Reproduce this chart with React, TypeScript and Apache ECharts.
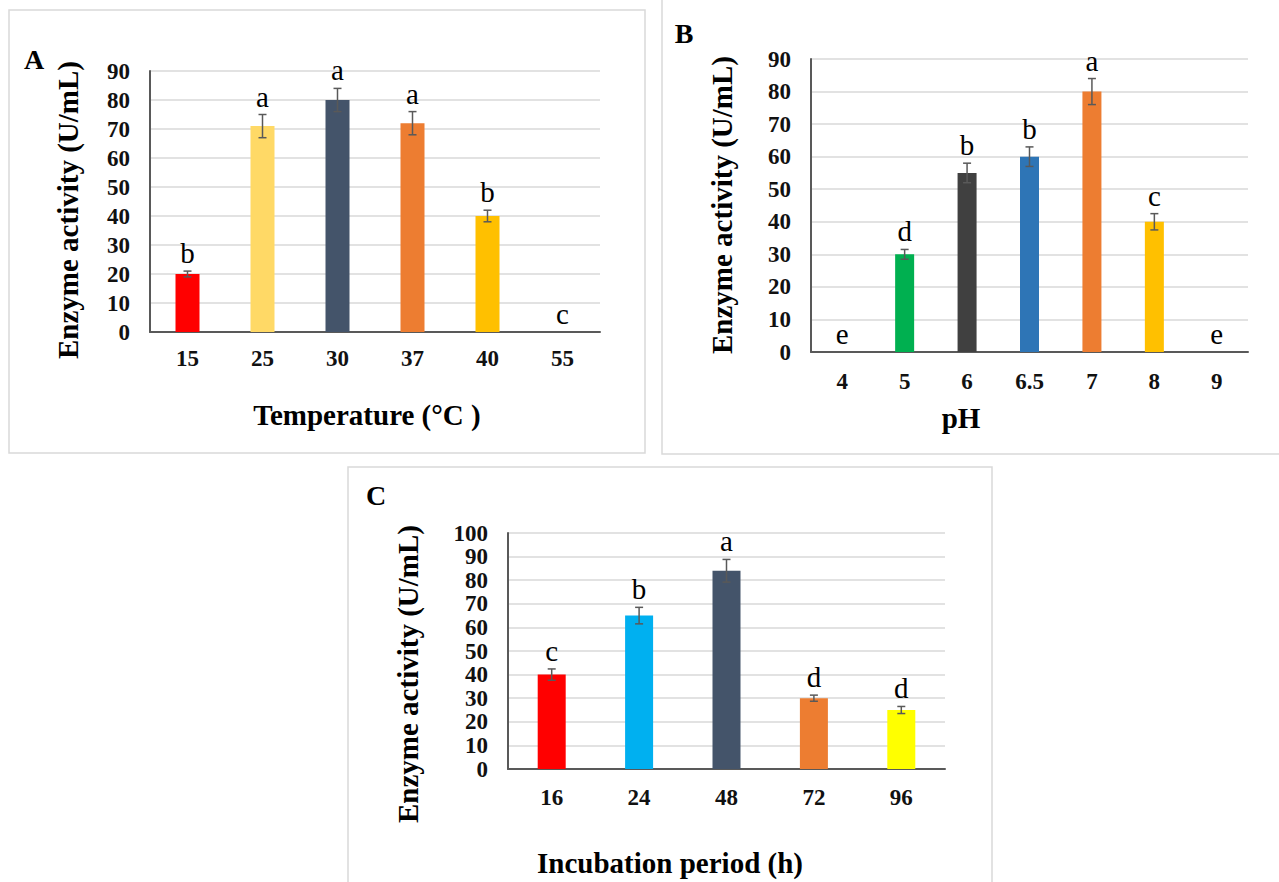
import React, { useEffect, useRef } from "react";
import * as echarts from "echarts";

// Panel A: temperature
const tempCategories = ["15", "25", "30", "37", "40", "55"];
const tempValues = [20, 71, 80, 72, 40, 0];
const tempErrors = [1, 4, 4, 4, 2, 0];
const tempLetters = ["b", "a", "a", "a", "b", "c"];
const tempColors = ["#FF0000", "#FFD966", "#44546A", "#ED7D31", "#FFC000", "#A5A5A5"];

// Panel B: pH
const phCategories = ["4", "5", "6", "6.5", "7", "8", "9"];
const phValues = [0, 30, 55, 60, 80, 40, 0];
const phErrors = [0, 1.5, 3, 3, 4, 2.5, 0];
const phLetters = ["e", "d", "b", "b", "a", "c", "e"];
const phColors = ["#A5A5A5", "#00B050", "#404040", "#2E75B6", "#ED7D31", "#FFC000", "#A5A5A5"];

// Panel C: incubation period
const timeCategories = ["16", "24", "48", "72", "96"];
const timeValues = [40, 65, 84, 30, 25];
const timeErrors = [2.4, 3.5, 4.8, 1.3, 1.5];
const timeLetters = ["c", "b", "a", "d", "d"];
const timeColors = ["#FF0000", "#00B0F0", "#44546A", "#ED7D31", "#FFFF00"];

const yTicksA = { max: 90, interval: 10 };
const yTicksB = { max: 90, interval: 10 };
const yTicksC = { max: 100, interval: 10 };

const FONT = '"Liberation Serif", "Times New Roman", serif';
const TEXT = "#111111";

const valueAxis = (idx: number, max: number, interval: number) => ({
  type: "value",
  gridIndex: idx,
  min: 0,
  max,
  interval,
  axisLine: { show: true, lineStyle: { color: "#595959", width: 2 } },
  axisTick: { show: false },
  splitLine: { show: true, lineStyle: { color: "#D9D9D9", width: 1.5 } },
  axisLabel: {
    fontFamily: FONT,
    fontWeight: "bold",
    fontSize: 23,
    color: TEXT,
    margin: 20,
  },
});

const catAxis = (idx: number, data: string[], margin: number) => ({
  type: "category",
  gridIndex: idx,
  data,
  axisLine: { show: true, lineStyle: { color: "#595959", width: 2 } },
  axisTick: { show: false },
  axisLabel: {
    fontFamily: FONT,
    fontWeight: "bold",
    fontSize: 23,
    color: TEXT,
    margin,
  },
});

const barSeries = (idx: number, values: number[], colors: string[], width: number) => ({
  type: "bar",
  xAxisIndex: idx,
  yAxisIndex: idx,
  barWidth: width,
  data: values.map((v, i) => ({ value: v, itemStyle: { color: colors[i] } })),
});

const errorSeries = (idx: number, values: number[], errors: number[], letters: string[]) => ({
  type: "custom",
  xAxisIndex: idx,
  yAxisIndex: idx,
  z: 10,
  data: values.map((v, i) => [i, v, errors[i]]),
  renderItem: (params: any, api: any) => {
    const i = api.value(0);
    const v = api.value(1);
    const e = api.value(2);
    const top = api.coord([i, v + e]);
    const bot = api.coord([i, v - e]);
    const children: any[] = [];
    const stroke = { stroke: "#595959", lineWidth: 1.5 };
    if (e > 0) {
      children.push({ type: "line", shape: { x1: top[0], y1: top[1], x2: bot[0], y2: bot[1] }, style: stroke });
      children.push({ type: "line", shape: { x1: top[0] - 4, y1: top[1], x2: top[0] + 4, y2: top[1] }, style: stroke });
      children.push({ type: "line", shape: { x1: bot[0] - 4, y1: bot[1], x2: bot[0] + 4, y2: bot[1] }, style: stroke });
    }
    children.push({
      type: "text",
      x: top[0],
      y: top[1] - 18,
      style: {
        text: letters[params.dataIndex],
        fill: "#000",
        font: `29px ${FONT}`,
        align: "center",
        verticalAlign: "middle",
        textAlign: "center",
        textVerticalAlign: "middle",
      },
    });
    return { type: "group", children };
  },
});

const textEl = (text: string, x: number, y: number, size: number, rotate = false) => ({
  type: "text",
  x,
  y,
  rotation: rotate ? Math.PI / 2 : 0,
  style: {
    text,
    fill: "#000",
    font: `bold ${size}px ${FONT}`,
    align: "center",
    verticalAlign: "middle",
    textAlign: "center",
    textVerticalAlign: "middle",
  },
});

const borderEl = (x: number, y: number, w: number, h: number) => ({
  type: "rect",
  shape: { x, y, width: w, height: h },
  style: { fill: "none", stroke: "#D9D9D9", lineWidth: 1.5 },
  silent: true,
});

export default function App() {
  const ref = useRef<HTMLDivElement>(null);
  useEffect(() => {
    if (!ref.current) return;
    const chart = echarts.init(ref.current, undefined, { renderer: "svg" });
    chart.setOption({
      animation: false,
      backgroundColor: "#ffffff",
      grid: [
        { left: 150, top: 71, width: 450, height: 261 },
        { left: 811, top: 59, width: 437, height: 293 },
        { left: 508, top: 533, width: 437, height: 236 },
      ],
      xAxis: [
        catAxis(0, tempCategories, 15),
        catAxis(1, phCategories, 18),
        catAxis(2, timeCategories, 17),
      ],
      yAxis: [
        valueAxis(0, yTicksA.max, yTicksA.interval),
        valueAxis(1, yTicksB.max, yTicksB.interval),
        valueAxis(2, yTicksC.max, yTicksC.interval),
      ],
      series: [
        barSeries(0, tempValues, tempColors, 24),
        errorSeries(0, tempValues, tempErrors, tempLetters),
        barSeries(1, phValues, phColors, 19),
        errorSeries(1, phValues, phErrors, phLetters),
        barSeries(2, timeValues, timeColors, 28),
        errorSeries(2, timeValues, timeErrors, timeLetters),
      ],
      graphic: [
        borderEl(9, 10, 636, 443),
        borderEl(662, -2, 640, 456),
        borderEl(348, 467, 644, 420),
        textEl("A", 34, 59, 28),
        textEl("B", 684, 33, 28),
        textEl("C", 376, 495, 28),
        textEl("Enzyme activity (U/mL)", 68, 210, 29, true),
        textEl("Temperature (°C )", 367, 415, 29),
        textEl("Enzyme activity (U/mL)", 722, 205, 29, true),
        textEl("pH", 961, 418, 29),
        textEl("Enzyme activity (U/mL)", 408, 674, 29, true),
        textEl("Incubation period (h)", 670, 863, 29),
      ],
    });
    return () => chart.dispose();
  }, []);
  return (
    <div
      ref={ref}
      style={{ position: "absolute", left: 0, top: 0, width: 1279, height: 882 }}
    />
  );
}
